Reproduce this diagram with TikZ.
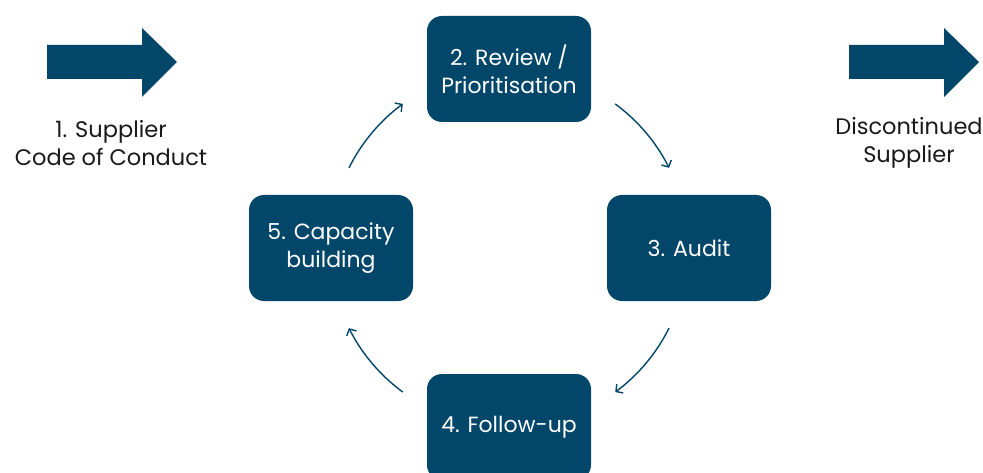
\documentclass[tikz,border=0pt]{standalone}
\usepackage{fontspec}
\setmainfont{Poppins}
\usetikzlibrary{arrows.meta}
\definecolor{navy}{RGB}{2,70,106}
\definecolor{labelgray}{RGB}{25,25,25}
\begin{document}
\begin{tikzpicture}[x=1pt,y=1pt,
  stagebox/.style={fill=navy,rounded corners=15pt,minimum width=164pt,minimum height=106pt,
    text=white,align=center,inner sep=0pt,font=\fontsize{22}{28}\selectfont},
  sidelabel/.style={align=center,text=labelgray,inner sep=0pt,font=\fontsize{22.5}{27.5}\selectfont},
  cyclearrow/.style={draw=navy,line width=1.4pt,-{Straight Barb[length=5pt,width=11pt]}},
  blockarrow/.style={fill=navy}]
\useasboundingbox (0,0) rectangle (983,472);

% block arrows at the sides
\fill[blockarrow] (47,393) -- (142,393) -- (142,375) -- (177,410) -- (142,444) -- (142,427) -- (47,427) -- cycle;
\fill[blockarrow] (849,393) -- (944,393) -- (944,375) -- (979,410) -- (944,444) -- (944,427) -- (849,427) -- cycle;

\node[sidelabel] (code) at (111,329) {1. Supplier\\Code of Conduct};
\node[sidelabel] (disc) at (909,329) {Discontinued\\Supplier};

% process stages
\node[stagebox] (review) at (509,403) {2. Review /\\Prioritisation};
\node[stagebox] (audit) at (689,224) {3. Audit};
\node[stagebox] (follow) at (509,45) {4. Follow-up};
\node[stagebox] (capacity) at (331,224) {5. Capacity\\building};

% cycle arrows on a circle around the centre
\coordinate (ctr) at (509,224);
\path (ctr) ++(153.4:179) coordinate (s5);
\path (ctr) ++(53.6:179) coordinate (s2);
\path (ctr) ++(-26.6:179) coordinate (s3);
\path (ctr) ++(-126.4:179) coordinate (s4);
\draw[cyclearrow] (s5) arc[start angle=153.4,end angle=126.4,radius=179];
\draw[cyclearrow] (s2) arc[start angle=53.6,end angle=26.6,radius=179];
\draw[cyclearrow] (s3) arc[start angle=-26.6,end angle=-53.6,radius=179];
\draw[cyclearrow] (s4) arc[start angle=-126.4,end angle=-153.4,radius=179];
\end{tikzpicture}
\end{document}
